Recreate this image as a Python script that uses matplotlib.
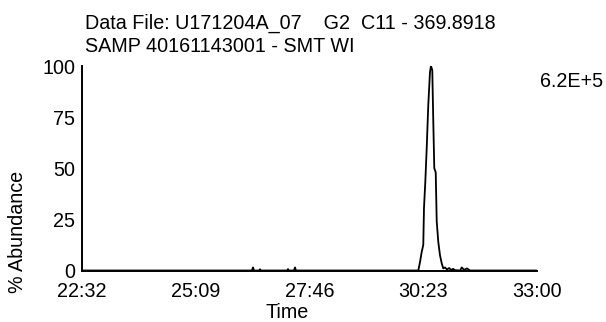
import matplotlib
matplotlib.use("Agg")
import matplotlib.pyplot as plt

plt.rcParams['font.family'] = ['Liberation Sans', 'DejaVu Sans']

# chromatogram trace (time in minutes, relative abundance in %)
times = [22.533, 26.440, 26.467, 26.490, 26.610, 26.628, 26.645,
         27.250, 27.272, 27.290, 27.410, 27.433, 27.455,
         30.269, 30.308, 30.347, 30.384, 30.400, 30.430, 30.463, 30.499,
         30.538, 30.561, 30.591, 30.614, 30.637, 30.670, 30.693, 30.729,
         30.768, 30.808, 30.844, 30.883, 30.930, 30.977, 31.020, 31.070,
         31.110, 31.230, 31.270, 31.320, 31.390, 31.460, 33.000]
abundance = [0, 0, 1.5, 0, 0, 0.6, 0,
             0, 0.7, 0, 0, 1.5, 0,
             0, 4, 9, 12.5, 30.5, 43, 60, 81,
             97, 100, 98, 73, 50, 48, 24, 14,
             7.5, 3.5, 1, 1.5, 0.5, 1.2, 0.3, 0.8,
             0.2, 0, 1.5, 0.3, 1.0, 0, 0]

tick_pos = [22.533, 25.150, 27.767, 30.383, 33.000]
tick_labels = ["22:32", "25:09", "27:46", "30:23", "33:00"]
y_ticks = [0, 25, 50, 75, 100]

title1 = "Data File: U171204A_07    G2  C11 - 369.8918"
title2 = "SAMP 40161143001 - SMT WI"
max_label = "6.2E+5"

W, H = 606, 322
fs = 14.2
fig = plt.figure(figsize=(W / 100, H / 100), dpi=100)
ax = fig.add_axes([82 / W, 1 - 270.5 / H, (537 - 82) / W, (270.5 - 66) / H])

ax.plot(times, abundance, color="black", linewidth=1.3)
ax.set_xlim(tick_pos[0], tick_pos[-1])
ax.set_ylim(0, 100)

ax.set_xticks(tick_pos)
ax.set_xticklabels(tick_labels)
ax.set_yticks(y_ticks)
ax.tick_params(axis="both", length=0, labelsize=fs)
ax.tick_params(axis="x", pad=8)
ax.tick_params(axis="y", pad=5)

for s in ["top", "right"]:
    ax.spines[s].set_visible(False)
for s in ["left", "bottom"]:
    ax.spines[s].set_linewidth(1.4)
    ax.spines[s].set_color("black")

fig.text(85 / W, 1 - 23 / H, title1, fontsize=fs, va="center", ha="left")
fig.text(85 / W, 1 - 47 / H, title2, fontsize=fs, va="center", ha="left")
fig.text(603 / W, 1 - 82 / H, max_label, fontsize=fs, va="center", ha="right")
fig.text(287 / W, 1 - 313 / H, "Time", fontsize=fs, va="center", ha="center")
fig.text(18 / W, 1 - 232 / H, "% Abundance", fontsize=fs, va="center",
         ha="center", rotation=90)

fig.savefig("out.png", dpi=100)
